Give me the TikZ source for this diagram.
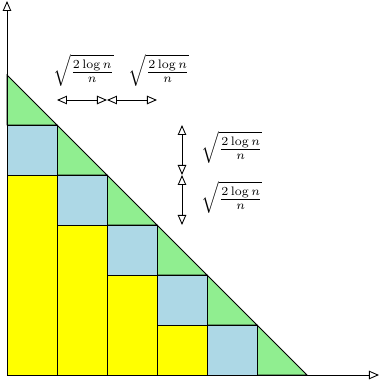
\documentclass[tikz,border=0pt]{standalone}
\usepackage{amsmath}
\usetikzlibrary{arrows.meta}
\definecolor{tri}{HTML}{90EE90}
\definecolor{sq}{HTML}{ADD8E6}
\definecolor{bar}{HTML}{FFFF00}
\begin{document}
\begin{tikzpicture}[
    cell/.style={draw, line width=0.5pt},
    axis/.style={-{Triangle[open, length=2mm, width=1.7mm]}, line width=0.5pt},
    dim/.style={{Triangle[open, length=2mm, width=1.7mm]}-{Triangle[open, length=2mm, width=1.7mm]}, line width=0.5pt},
    lbl/.style={inner sep=0pt},
]
    \useasboundingbox (-0.14,-0.2) rectangle (7.46,7.5);
    % staircase under the diagonal
    \foreach \i in {0,...,5} {
        \filldraw[cell, fill=tri] (\i,6-\i) -- (\i,5-\i) -- (\i+1,5-\i) -- cycle;
    }
    \foreach \i in {0,...,4} {
        \filldraw[cell, fill=sq] (\i,4-\i) rectangle (\i+1,5-\i);
    }
    \foreach \i in {0,...,3} {
        \filldraw[cell, fill=bar] (\i,0) rectangle (\i+1,4-\i);
    }
    % axes
    \coordinate (O) at (0,0);
    \coordinate (xend) at (7.44,0);
    \coordinate (yend) at (0,7.48);
    \draw[axis] (O) -- (xend);
    \draw[axis] (O) -- (yend);
    % horizontal widths
    \coordinate (h0) at (1,5.5);
    \coordinate (h1) at (2,5.5);
    \coordinate (h2) at (3,5.5);
    \draw[dim] (h0) -- (h1);
    \draw[dim] (h1) -- (h2);
    \node[lbl] (hl1) at (1.53,6.1) {$\sqrt{\frac{2\log n}{n}}$};
    \node[lbl] (hl2) at (3.04,6.1) {$\sqrt{\frac{2\log n}{n}}$};
    % vertical heights
    \coordinate (v0) at (3.5,5);
    \coordinate (v1) at (3.5,4);
    \coordinate (v2) at (3.5,3);
    \draw[dim] (v0) -- (v1);
    \draw[dim] (v1) -- (v2);
    \node[lbl] (vl1) at (4.5,4.55) {$\sqrt{\frac{2\log n}{n}}$};
    \node[lbl] (vl2) at (4.5,3.55) {$\sqrt{\frac{2\log n}{n}}$};
\end{tikzpicture}
\end{document}
